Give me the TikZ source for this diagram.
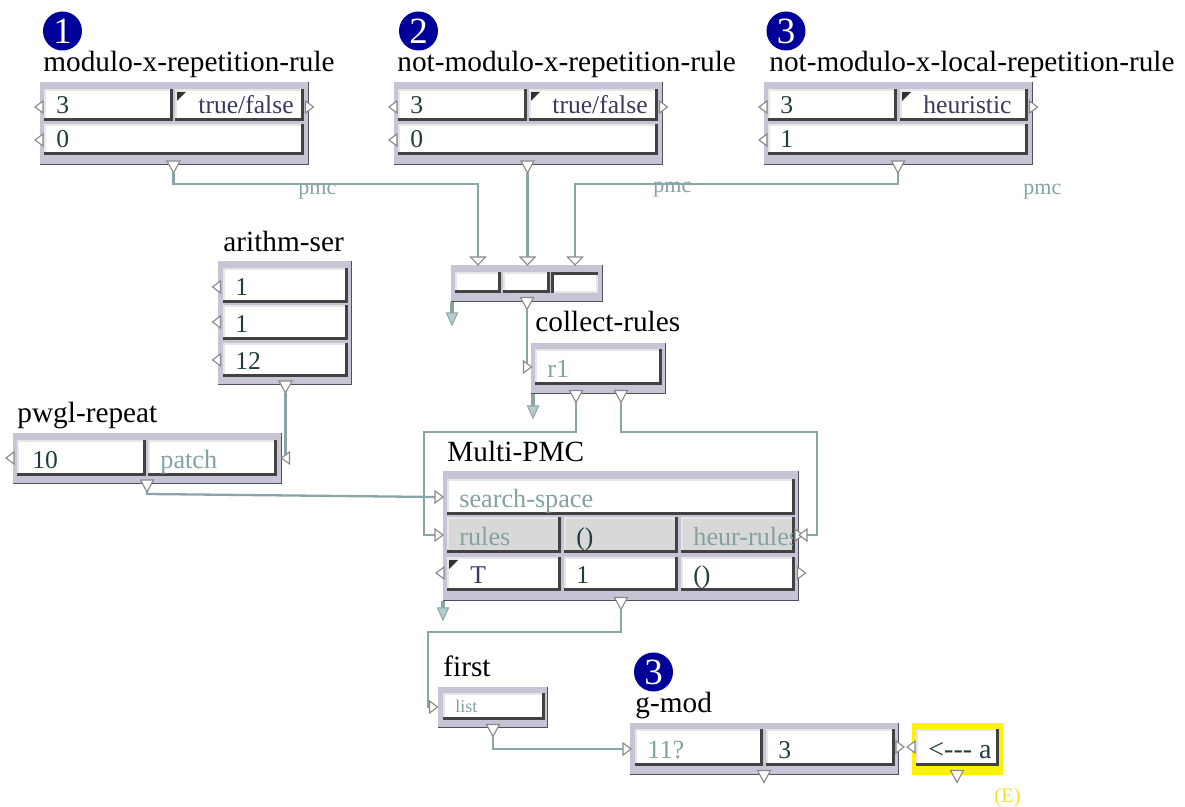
\documentclass[tikz,border=0pt]{standalone}
\usepackage{fontspec}
\setmainfont{Liberation Serif}
\usetikzlibrary{calc}

\definecolor{framec}{RGB}{197,197,213}
\definecolor{framedge}{RGB}{80,80,96}
\definecolor{wirec}{RGB}{138,165,165}
\definecolor{bevd}{RGB}{66,66,66}
\definecolor{bevl}{RGB}{230,230,230}
\definecolor{valc}{RGB}{32,60,60}
\definecolor{optc}{RGB}{58,58,96}
\definecolor{hintc}{RGB}{132,162,162}
\definecolor{badgec}{RGB}{0,0,153}
\definecolor{cellgray}{RGB}{216,216,216}
\definecolor{portc}{RGB}{136,136,136}
\definecolor{stubc}{RGB}{184,204,204}
\definecolor{flagc}{RGB}{50,50,50}
\definecolor{yelc}{RGB}{255,242,0}
\definecolor{etext}{RGB}{240,225,40}

% box frame with a thin dark edge on the right and bottom
\newcommand\pwframe[5][framec]{%
  \fill[#1] (#2,#3) rectangle (#4,#5);
  \draw[draw=framedge, line width=0.5pt] (#2,#5-0.5) -- (#4-0.5,#5-0.5) -- (#4-0.5,#3);}

% raised input cell: light top/left, dark bottom/right
\newcommand\pwcell[5][white]{%
  \fill[#1] (#2,#3) rectangle (#4,#5);
  \draw[draw=bevl, line width=1pt] (#2+1,#5) -- (#2+1,#3+1) -- (#4,#3+1);
  \draw[draw=bevd, line width=1.5pt] (#2,#5-1.5) -- (#4-1.5,#5-1.5) -- (#4-1.5,#3);}

% pressed cell: dark top/left, light bottom/right
\newcommand\pwcellin[4]{%
  \fill[white] (#1,#2) rectangle (#3,#4);
  \draw[draw=bevl, line width=1pt] (#1,#4-1) -- (#3-1,#4-1) -- (#3-1,#2);
  \draw[draw=bevd, line width=1.5pt] (#1+1.5,#4) -- (#1+1.5,#2+1.5) -- (#3,#2+1.5);}

% menu flag in the upper left corner of a cell
\newcommand\pwflag[2]{\fill[flagc] (#1+2,#2+3) -- (#1+11,#2+3) -- (#1+2,#2+12) -- cycle;}

% cell with its text
\newcommand\pwval[8][white]{%
  \pwcell[#1]{#2}{#3}{#4}{#5}%
  \node[#7] (#6) at (#2+12,#5-7) {#8};}

% short dangling output arrow
\newcommand\pwstub[4]{%
  \coordinate (#1) at (#2,#4);
  \draw[draw=wirec, line width=1.8pt] (#2,#3) -- (#2,#4-11);
  \path[draw=wirec, fill=stubc, line width=0.5pt] (#2-5.5,#4-12) -- (#2+5.5,#4-12) -- (#1) -- cycle;}

\begin{document}
\begin{tikzpicture}[x=0.5pt, y=-0.5pt,
  boxtitle/.style={anchor=base west, inner sep=0pt, font=\fontsize{14.65}{17}\selectfont},
  cellval/.style={anchor=base west, inner sep=0pt, font=\fontsize{12.8}{15}\selectfont, text=valc},
  cellopt/.style={cellval, text=optc, xshift=5.5pt},
  cellhint/.style={cellval, text=hintc, font=\fontsize{13.1}{15}\selectfont},
  listtxt/.style={cellhint, font=\fontsize{9}{10}\selectfont},
  pmctxt/.style={anchor=base west, inner sep=0pt, font=\fontsize{11}{12}\selectfont, text=hintc},
  numbadge/.style={circle, fill=badgec, text=white, minimum size=19.5pt, inner sep=0pt, font=\fontsize{18.5}{18.5}\selectfont},
  wire/.style={draw=wirec, line width=1.15pt},
  port/.style={draw=portc, fill=white, line width=0.55pt, line join=miter},
  pics/pdown/.style={code={\path[port] (-6.5,-6) -- (6.5,-6) -- (0,6) -- cycle;}},
  pics/pin/.style={code={\path[port] (-7.5,-4) -- (7.5,-4) -- (0,4) -- cycle;}},
  pics/pleft/.style={code={\path[port] (4,-6) -- (4,6) -- (-4,0) -- cycle;}},
  pics/pright/.style={code={\path[port] (-4,-6) -- (-4,6) -- (4,0) -- cycle;}},
]
\useasboundingbox (0,0) rectangle (1185,807);

% wire labels
\node[pmctxt] (pmc1) at (298,195) {pmc};
\node[pmctxt] (pmc2) at (653,193) {pmc};
\node[pmctxt] (pmc3) at (1023,195) {pmc};

% connection points
\coordinate (m1out) at (173.5,173);
\coordinate (m2out) at (527.5,173);
\coordinate (m3out) at (898,173);
\coordinate (cin1) at (478,257);
\coordinate (cin2) at (527.5,257);
\coordinate (cin3) at (575,257);
\coordinate (coout) at (527,310);
\coordinate (crin) at (527,367);
\coordinate (crout1) at (576,403);
\coordinate (crout2) at (621,403);
\coordinate (asout) at (285.5,393);
\coordinate (prin) at (285.5,458);
\coordinate (prout) at (147,492);
\coordinate (mpsin) at (435,497);
\coordinate (mprin) at (435,535);
\coordinate (mphin) at (807,535);
\coordinate (mpout) at (621,610);
\coordinate (fiin) at (430,707);
\coordinate (fiout) at (493,737);
\coordinate (gmin) at (623,749);
\coordinate (busA) at (0,184);
\coordinate (busB) at (0,432);
\coordinate (busC) at (0,632);
\coordinate (railL) at (424,0);
\coordinate (railR) at (817,0);
\coordinate (railF) at (428,0);

% wires
\draw[wire] (m1out) -- (m1out |- busA) -| (cin1);
\draw[wire] (m2out) -- (cin2);
\draw[wire] (m3out) -- (m3out |- busA) -| (cin3);
\draw[wire] (coout) -- (crin);
\draw[wire] (crout1) |- (railL |- busB) |- (mprin);
\draw[wire] (crout2) |- (railR |- busB) |- (mphin);
\draw[wire] (asout) -- (prin);
\draw[wire] (prout) -- ++(0,2) -- (mpsin);
\draw[wire] (mpout) |- (railF |- busC) |- (fiin);
\draw[wire] (fiout) |- (gmin);

% modulo-x-repetition-rule
\node[numbadge] (b1) at (62.5,31) {1};
\node[boxtitle] (t1) at (43,72) {modulo-x-repetition-rule};
\pwframe{40}{82}{309}{165}
\pwval{44}{89}{173}{121}{m1a}{cellval}{3}
\pwval{175}{89}{304}{121}{m1b}{cellopt}{true/false}
\pwflag{175}{89}
\pwval{44}{124}{304}{155}{m1c}{cellval}{0}
\pic at (39,107) {pleft}; \pic at (39,140) {pleft};
\pic at (309.5,107) {pright}; \pic at (173.5,167) {pdown};

% not-modulo-x-repetition-rule
\node[numbadge] (b2) at (418.5,31) {2};
\node[boxtitle] (t2) at (397,72) {not-modulo-x-repetition-rule};
\pwframe{394}{82}{663}{165}
\pwval{398}{89}{527}{121}{m2a}{cellval}{3}
\pwval{529}{89}{658}{121}{m2b}{cellopt}{true/false}
\pwflag{529}{89}
\pwval{398}{124}{658}{155}{m2c}{cellval}{0}
\pic at (393,107) {pleft}; \pic at (393,140) {pleft};
\pic at (663.5,107) {pright}; \pic at (527.5,167) {pdown};

% not-modulo-x-local-repetition-rule
\node[numbadge] (b3) at (786,31) {3};
\node[boxtitle] (t3) at (769,72) {not-modulo-x-local-repetition-rule};
\pwframe{764}{82}{1033}{165}
\pwval{768}{89}{897}{121}{m3a}{cellval}{3}
\pwval{900}{89}{1028}{121}{m3b}{cellopt}{heuristic}
\pwflag{900}{89}
\pwval{768}{124}{1028}{155}{m3c}{cellval}{1}
\pic at (763,107) {pleft}; \pic at (763,140) {pleft};
\pic at (1033.5,107) {pright}; \pic at (898,167) {pdown};

% three-input collector
\pwframe{451}{265}{603}{302}
\pwcell{455}{272}{501}{293}
\pwcell{503}{272}{550}{293}
\pwcellin{551}{272}{598}{293}
\pic at (478,261) {pin}; \pic at (527.5,261) {pin}; \pic at (575,261) {pin};
\pic at (527,303.5) {pdown};
\pwstub{costub}{452}{302}{325}

% collect-rules
\node[boxtitle] (t5) at (535,332) {collect-rules};
\pwframe{531}{343}{666}{394}
\pwval{535}{349}{662}{385}{cra}{cellhint}{r1}
\pic at (527.5,367) {pright};
\pic at (576,396.5) {pdown}; \pic at (621,396.5) {pdown};
\pwstub{crstub}{533}{394}{418}

% arithm-ser
\node[boxtitle] (t6) at (223,252) {arithm-ser};
\pwframe{218}{261}{352}{385}
\pwval{223}{268}{348}{303}{asa}{cellval}{1}
\pwval{223}{305}{348}{340}{asb}{cellval}{1}
\pwval{223}{343}{348}{377}{asc}{cellval}{12}
\pic at (216.5,287) {pleft}; \pic at (216.5,322) {pleft}; \pic at (216.5,360) {pleft};
\pic at (285.5,387) {pdown};

% pwgl-repeat
\node[boxtitle] (t7) at (17,423) {pwgl-repeat};
\pwframe{13}{433}{282}{484}
\pwval{17}{440}{146}{476}{pra}{cellval, xshift=1.5pt}{10}
\pwval{148}{440}{277}{476}{prb}{cellhint}{patch}
\pic at (10,458) {pleft}; \pic at (285.5,458) {pleft};
\pic at (147,486) {pdown};

% Multi-PMC
\node[boxtitle] (t8) at (447,462) {Multi-PMC};
\pwframe{443}{471}{799}{601}
\pwval{447}{479}{795}{515}{mpa}{cellhint}{search-space}
\pwval[cellgray]{447}{517}{561}{553}{mpb}{cellhint}{rules}
\pwval[cellgray]{564}{517}{678}{553}{mpc}{cellval}{()}
\pwcell[cellgray]{681}{517}{795}{553}
\begin{scope}
  \clip (681,517) rectangle (792,550);
  \node[cellhint] (mpd) at (693,546) {heur-rules};
\end{scope}
\pwval{447}{557}{561}{591}{mpe}{cellopt}{T}
\pwflag{447}{557}
\pwval{564}{557}{678}{591}{mpf}{cellval}{1}
\pwval{681}{557}{795}{591}{mpg}{cellval}{()}
\pic at (439,497) {pright}; \pic at (439,535) {pright}; \pic at (440,573) {pleft};
\pic at (801.5,573) {pright};
\pic at (799,535) {pright}; \pic at (803,535) {pleft};
\pic at (621,603.5) {pdown};
\pwstub{mpstub}{443}{601}{620}

% first
\node[boxtitle] (t9) at (443,677) {first};
\pwframe{438}{687}{548}{728}
\pwval{443}{693}{545}{720}{fia}{listtxt}{list}
\pic at (433.5,707) {pright};
\pic at (493,730.5) {pdown};

% g-mod
\node[numbadge] (b4) at (653.5,672) {3};
\node[boxtitle] (t10) at (635,713) {g-mod};
\pwframe{630}{723}{899}{775}
\pwval{635}{729}{763}{766}{gma}{cellhint}{11?}
\pwval{766}{729}{895}{766}{gmb}{cellval}{3}
\pic at (627,749) {pright}; \pic at (900,747) {pright};
\pic at (764,776.5) {pdown};

% highlighted value box
\fill[yelc] (912,723) rectangle (1003,775);
\pwval{916}{729}{999}{766}{ya}{cellval, font=\fontsize{14}{16}\selectfont}{<-{}-{}- a}
\pic at (911,747) {pleft};
\pic at (957,776.5) {pdown};
\node[anchor=base west, inner sep=0pt, font=\fontsize{10.3}{12}\selectfont, text=etext] (ee) at (994,803) {(E)};
\end{tikzpicture}
\end{document}
